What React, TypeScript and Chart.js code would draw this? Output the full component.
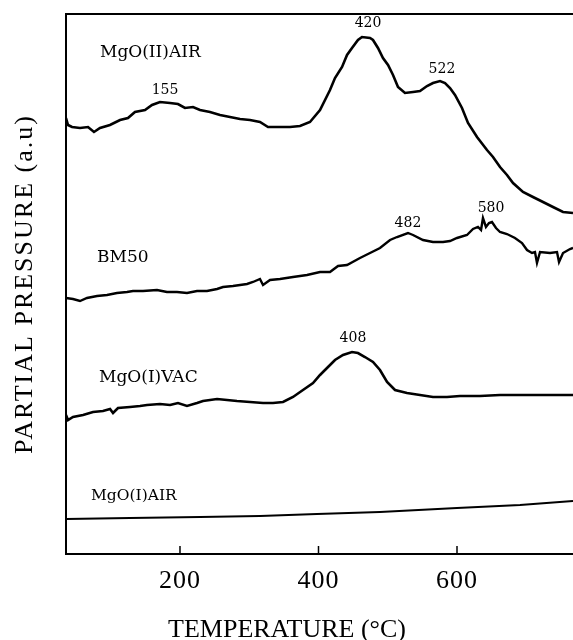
import React, { useEffect, useRef } from "react";
import { Chart, registerables } from "chart.js";

Chart.register(...registerables);

// Axis range (temperature, °C) and y range (arbitrary units)
const X_MIN = 35.4;
const X_MAX = 767.5;
const Y_MIN = 0;
const Y_MAX = 540;
const xTickValues = [200, 400, 600];
const xTitle = "TEMPERATURE (°C)";
const yTitle = "PARTIAL PRESSURE (a.u)";

// MgO(II)AIR
const mgo2AirX = [35.4, 38.3, 44.1, 55.6, 67.2, 75.8, 84.5, 98.9, 113.4, 124.9, 135.0, 149.5, 159.6, 171.1, 185.6, 197.1, 207.2, 218.8, 228.9, 243.3, 257.8, 272.2, 286.7, 301.1, 315.5, 327.1, 344.4, 358.9, 373.3, 387.7, 402.2, 416.6, 423.8, 434.0, 441.2, 448.4, 457.0, 462.8, 474.4, 478.7, 485.9, 493.1, 500.4, 507.6, 514.8, 524.9, 536.5, 546.6, 556.7, 565.3, 575.5, 582.7, 589.9, 597.1, 607.2, 615.9, 628.9, 643.3, 652.0, 662.1, 672.2, 680.9, 695.3, 709.7, 724.2, 738.6, 753.1, 767.5];
const mgo2AirY = [436, 429, 427, 426, 427, 422, 426, 429, 434, 436, 442, 444, 449, 452, 451, 450, 446, 447, 444, 442, 439, 437, 435, 434, 432, 427, 427, 427, 428, 432, 444, 464, 476, 487, 499, 506, 514, 517, 516, 514, 506, 496, 489, 479, 467, 461, 462, 463, 468, 471, 473, 471, 466, 459, 446, 431, 417, 404, 397, 387, 379, 371, 362, 357, 352, 347, 342, 341];

// BM50
const bm50X = [35.4, 45.5, 55.6, 65.7, 80.2, 94.6, 109.0, 123.5, 132.1, 146.6, 166.8, 181.2, 195.7, 210.1, 224.6, 239.0, 253.5, 262.1, 276.5, 296.8, 305.4, 315.5, 319.9, 330.0, 344.4, 363.2, 383.4, 402.2, 416.6, 428.2, 441.2, 459.9, 474.4, 488.8, 503.3, 513.4, 529.2, 536.5, 550.9, 565.3, 579.8, 589.9, 600.0, 614.4, 623.1, 630.3, 634.7, 637.5, 641.8, 646.2, 650.5, 656.3, 662.1, 672.2, 683.7, 693.9, 701.1, 708.3, 712.6, 715.5, 719.9, 734.3, 744.4, 747.3, 753.1, 763.2, 767.5];
const bm50Y = [256, 255, 253, 256, 258, 259, 261, 262, 263, 263, 264, 262, 262, 261, 263, 263, 265, 267, 268, 270, 272, 275, 269, 274, 275, 277, 279, 282, 282, 288, 289, 296, 301, 306, 314, 317, 321, 319, 314, 312, 312, 313, 316, 319, 325, 327, 324, 336, 327, 331, 332, 326, 322, 320, 316, 311, 304, 301, 302, 291, 302, 301, 302, 292, 301, 305, 306];

// MgO(I)VAC
const mgo1VacX = [35.4, 38.3, 45.5, 60.0, 74.4, 88.8, 99.0, 103.3, 110.5, 127.8, 142.3, 152.4, 171.1, 185.6, 197.1, 210.1, 224.6, 233.2, 253.5, 267.9, 282.3, 301.1, 319.9, 334.3, 348.8, 363.2, 377.6, 392.1, 402.2, 412.3, 423.8, 435.4, 448.4, 457.0, 467.1, 478.7, 488.8, 499.0, 510.5, 527.8, 546.6, 565.3, 585.6, 604.3, 633.2, 662.1, 691.0, 730.0, 767.5];
const mgo1VacY = [139, 134, 137, 139, 142, 143, 145, 141, 146, 147, 148, 149, 150, 149, 151, 148, 151, 153, 155, 154, 153, 152, 151, 151, 152, 157, 164, 171, 179, 186, 194, 199, 202, 201, 197, 192, 184, 172, 164, 161, 159, 157, 157, 158, 158, 159, 159, 159, 159];

// MgO(I)AIR
const mgo1AirX = [35.4, 127.8, 228.9, 315.5, 397.8, 488.8, 600.0, 691.0, 767.5];
const mgo1AirY = [35, 36, 37, 38, 40, 42, 46, 49, 53];

// Text annotations: text, x, y (data units), alignment, font size
const annText = ["MgO(II)AIR", "155", "420", "522", "BM50", "482", "580", "MgO(I)VAC", "408", "MgO(I)AIR"];
const annX = [84.5, 178.4, 471.5, 578.3, 80.2, 529.2, 649.1, 83.1, 449.8, 71.5];
const annY = [497, 460, 527, 481, 292, 327, 342, 172, 212, 54];
const annAlign: CanvasTextAlign[] = ["left", "center", "center", "center", "left", "center", "center", "left", "center", "left"];
const annSize = [17, 14, 14, 14, 17, 14, 14, 17, 14, 15.5];

const toPts = (xs: number[], ys: number[]) => xs.map((x, i) => ({ x, y: ys[i] }));

const framePlugin = {
  id: "framePlugin",
  afterDraw(chart: any) {
    const { ctx, chartArea, scales } = chart;
    const xs = scales.x;
    const ys = scales.y;
    const { left, right, top, bottom } = chartArea;
    ctx.save();
    ctx.strokeStyle = "#000";
    ctx.fillStyle = "#000";
    // frame: top, left, bottom
    ctx.lineWidth = 2;
    ctx.beginPath();
    ctx.moveTo(right, top);
    ctx.lineTo(left, top);
    ctx.lineTo(left, bottom);
    ctx.lineTo(right, bottom);
    ctx.stroke();
    // inward tick marks
    ctx.lineWidth = 1.5;
    xTickValues.forEach((v) => {
      const px = xs.getPixelForValue(v);
      ctx.beginPath();
      ctx.moveTo(px, bottom);
      ctx.lineTo(px, bottom - 8);
      ctx.stroke();
    });
    // tick labels
    ctx.font = "26px 'Liberation Serif'";
    ctx.textAlign = "center";
    ctx.textBaseline = "alphabetic";
    (ctx as any).letterSpacing = "1px";
    xTickValues.forEach((v) => {
      ctx.fillText(String(v), xs.getPixelForValue(v), bottom + 34);
    });
    // x title
    (ctx as any).letterSpacing = "0px";
    ctx.fillText(xTitle, 287, bottom + 83);
    // y title
    ctx.save();
    ctx.translate(32, (top + bottom) / 2);
    ctx.rotate(-Math.PI / 2);
    ctx.font = "26px 'Liberation Serif'";
    (ctx as any).letterSpacing = "2px";
    ctx.textAlign = "center";
    ctx.fillText(yTitle, 0, 0);
    ctx.restore();
    // annotations
    (ctx as any).letterSpacing = "0px";
    annText.forEach((t, i) => {
      ctx.font = `${annSize[i]}px 'DejaVu Serif'`;
      ctx.textAlign = annAlign[i];
      ctx.fillText(t, xs.getPixelForValue(annX[i]), ys.getPixelForValue(annY[i]));
    });
    ctx.restore();
  },
};

export default function App() {
  const ref = useRef<HTMLCanvasElement | null>(null);
  useEffect(() => {
    if (!ref.current) return;
    const line = (xs: number[], ys: number[], w: number) => ({
      data: toPts(xs, ys),
      borderColor: "#000",
      borderWidth: w,
      pointRadius: 0,
      tension: 0,
      fill: false,
    });
    const chart = new Chart(ref.current, {
      type: "line",
      data: {
        datasets: [
          line(mgo2AirX, mgo2AirY, 2.6),
          line(bm50X, bm50Y, 2.4),
          line(mgo1VacX, mgo1VacY, 2.6),
          line(mgo1AirX, mgo1AirY, 2),
        ],
      },
      options: {
        responsive: false,
        animation: false,
        devicePixelRatio: 1,
        layout: { padding: { top: 14, left: 0, right: 0, bottom: 0 } },
        plugins: { legend: { display: false }, tooltip: { enabled: false } },
        scales: {
          x: {
            type: "linear",
            min: X_MIN,
            max: X_MAX,
            ticks: { display: false },
            grid: { display: false },
            border: { display: false },
            afterFit: (s: any) => {
              s.height = 86;
            },
          },
          y: {
            type: "linear",
            min: Y_MIN,
            max: Y_MAX,
            ticks: { display: false },
            grid: { display: false },
            border: { display: false },
            afterFit: (s: any) => {
              s.width = 66;
            },
          },
        },
      },
      plugins: [framePlugin],
    } as any);
    return () => chart.destroy();
  }, []);
  return (
    <div style={{ position: "absolute", left: 0, top: 0, width: 573, height: 640, background: "#fff" }}>
      <canvas ref={ref} width={573} height={640} />
    </div>
  );
}
